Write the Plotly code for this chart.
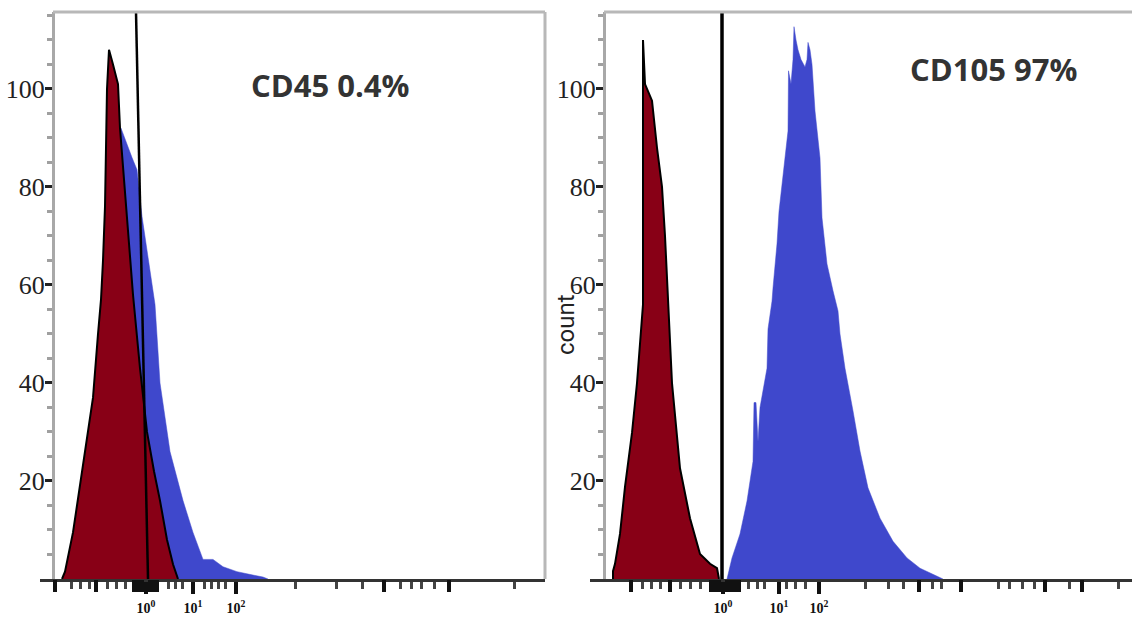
import plotly.graph_objects as go

# ---------------- data (x in arbitrary channel units, y = count) ----------------
# Left panel: CD45
cd45_iso_x = [44, 50, 66, 86, 106, 116, 122, 126, 130, 134, 138, 146, 156, 160, 166, 176, 186, 200, 214, 228, 240, 254, 266, 276]
cd45_iso_y = [0, 1.5, 9.5, 23, 37, 50, 57, 65, 76, 100, 108, 105, 101, 92, 84, 71, 58, 43, 30, 22, 16, 8, 3, 0]

cd45_x = [48, 70, 90, 110, 120, 130, 140, 152, 162, 184, 194, 204, 214, 224, 230, 240, 260, 286, 306, 326, 346, 366, 394, 426, 446, 456]
cd45_y = [0, 6, 18, 32, 45, 62, 80, 89, 92, 86, 83.5, 74, 67, 60, 56, 40, 26, 16, 9.5, 4, 4, 2.5, 1.5, 0.8, 0.4, 0]

cd45_gate_x = [192, 216]
cd45_gate_y = [115.7, 0]

# Right panel: CD105
cd105_iso_x = [46, 46, 50, 60, 70, 84, 94, 106, 106, 106, 110, 124, 134, 144, 150, 156, 164, 180, 200, 220, 240, 254, 258]
cd105_iso_y = [0, 1.6, 3.1, 9.2, 18.8, 29.8, 40, 56, 93, 110, 101, 97.6, 88, 80, 70, 56, 40, 22.6, 12.4, 5.1, 3.1, 2.2, 0]

cd105_x = [274, 284, 300, 314, 326, 328, 332, 336, 340, 354, 356, 364, 366, 374, 378, 386, 396, 397, 402, 406, 408,
           412, 416, 422, 430, 434, 436, 440, 444, 450, 460, 464, 474, 486, 496, 500, 510, 526, 540, 556, 580, 606,
           634, 660, 686, 706]
cd105_y = [0, 4.3, 9.2, 15.9, 24, 36, 36, 28, 35, 43, 51, 56.7, 59.4, 68.4, 75, 81.8, 91.4, 103.7, 101, 106, 112.7,
           110, 108, 106, 104.5, 106, 109.5, 108, 105, 95.5, 85.9, 73.7, 64.3, 58.8, 54.7, 50, 43, 34.3, 26.1, 18.6,
           12.4, 7.7, 4.3, 2.2, 1, 0]

cd105_gate_x = [264, 264]
cd105_gate_y = [116.5, 0]

# axis ticks
y_major = [20, 40, 60, 80, 100]
y_major_text = ["20", "40", "60", "80", "100"]
y_minor = [5, 10, 15, 25, 30, 35, 45, 50, 55, 65, 70, 75, 85, 90, 95, 105, 110, 115]

decade_text = ["10<sup>0</sup>", "10<sup>1</sup>", "10<sup>2</sup>"]
left_labeled = [212, 306, 392]
left_major = [30, 112, 188, 196, 204, 220, 228, 234, 688, 818]
left_minor = [62, 80, 98, 134, 152, 170, 256, 270, 284, 328, 342, 356, 370, 510, 592, 644, 720, 742, 762, 788, 948]

right_labeled = [266, 378, 458]
right_major = [82, 160, 242, 250, 258, 274, 282, 290, 298, 658, 742, 910, 984]
right_minor = [104, 122, 140, 180, 200, 220, 316, 334, 348, 392, 410, 430, 550, 596, 626, 684, 702, 816, 838, 864,
               888, 958, 1056]

labels = ["CD45 0.4%", "CD105 97%"]

# ---------------- figure ----------------
RED = "#880016"
BLUE = "#3f48cc"
W, H = 1132, 619

fig = go.Figure()

fig.add_trace(go.Scatter(x=cd45_x, y=cd45_y, mode="lines", fill="tozeroy",
                         line=dict(color=BLUE, width=0.5), fillcolor=BLUE, xaxis="x", yaxis="y"))
fig.add_trace(go.Scatter(x=cd45_iso_x, y=cd45_iso_y, mode="lines", fill="tozeroy",
                         line=dict(color="black", width=2), fillcolor=RED, xaxis="x", yaxis="y"))
fig.add_trace(go.Scatter(x=cd45_gate_x, y=cd45_gate_y, mode="lines",
                         line=dict(color="black", width=2.5), xaxis="x", yaxis="y"))

fig.add_trace(go.Scatter(x=cd105_x, y=cd105_y, mode="lines", fill="tozeroy",
                         line=dict(color=BLUE, width=0.5), fillcolor=BLUE, xaxis="x2", yaxis="y2"))
fig.add_trace(go.Scatter(x=cd105_iso_x, y=cd105_iso_y, mode="lines", fill="tozeroy",
                         line=dict(color="black", width=2), fillcolor=RED, xaxis="x2", yaxis="y2"))
fig.add_trace(go.Scatter(x=cd105_gate_x, y=cd105_gate_y, mode="lines",
                         line=dict(color="black", width=3.5), xaxis="x2", yaxis="y2"))

xl0, xl1 = 40 / W, 545 / W
xr0, xr1 = 590 / W, 1.0
yl_pos, yr_pos = 53 / W, 604 / W

def xaxis_cfg(dom, rng, labeled, minor, anchor):
    return dict(domain=dom, range=rng, anchor=anchor, showgrid=False, zeroline=False,
                showline=True, linecolor="#333333", linewidth=3,
                tickmode="array", tickvals=labeled, ticktext=decade_text,
                ticks="outside", ticklen=12, tickwidth=4, tickcolor="#111111",
                ticklabelstandoff=2,
                tickfont=dict(family="Liberation Serif", size=14, color="#111111", weight="bold"),
                minor=dict(tickmode="array", tickvals=minor, ticks="outside", ticklen=7,
                           tickwidth=3, tickcolor="#444444"),
                fixedrange=True)

def xaxis_major_cfg(dom, rng, major, over, anchor):
    return dict(domain=dom, range=rng, overlaying=over, anchor=anchor, side="bottom",
                showgrid=False, zeroline=False, showline=False, showticklabels=False,
                tickmode="array", tickvals=major,
                ticks="outside", ticklen=12, tickwidth=4, tickcolor="#111111",
                fixedrange=True)

def yaxis_cfg(pos):
    return dict(range=[0, 115.7], domain=[0, 1], anchor="free", position=pos,
                showgrid=False, zeroline=False, showline=True, linecolor="#a8a8a8", linewidth=3,
                tickmode="array", tickvals=y_major, ticktext=y_major_text,
                ticks="outside", ticklen=7, tickwidth=3, tickcolor="#222222",
                ticklabelstandoff=-5,
                tickfont=dict(family="Liberation Serif", size=26, color="#222222"),
                minor=dict(tickmode="array", tickvals=y_minor, ticks="outside", ticklen=5,
                           tickwidth=3, tickcolor="#a0a0a0"),
                fixedrange=True)

fig.update_layout(
    width=W, height=H,
    margin=dict(l=0, r=0, t=12, b=40),
    paper_bgcolor="white", plot_bgcolor="white",
    showlegend=False,
    xaxis=xaxis_cfg([xl0, xl1], [0, 1010], left_labeled, left_minor, "y"),
    xaxis2=xaxis_cfg([xr0, xr1], [0, 1084], right_labeled, right_minor, "y2"),
    xaxis3=xaxis_major_cfg([xl0, xl1], [0, 1010], left_major, "x", "y"),
    xaxis4=xaxis_major_cfg([xr0, xr1], [0, 1084], right_major, "x2", "y2"),
    yaxis=yaxis_cfg(yl_pos),
    yaxis2=yaxis_cfg(yr_pos),
)

# invisible traces so the overlay tick axes are drawn
fig.add_trace(go.Scatter(x=[0], y=[0], mode="markers", marker=dict(opacity=0), hoverinfo="skip",
                         xaxis="x3", yaxis="y"))
fig.add_trace(go.Scatter(x=[0], y=[0], mode="markers", marker=dict(opacity=0), hoverinfo="skip",
                         xaxis="x4", yaxis="y2"))

# frames (top/right borders)
frame_col = "#b8b8b8"
fig.add_shape(type="line", xref="paper", yref="paper", x0=yl_pos, x1=xl1, y0=1, y1=1,
              line=dict(color=frame_col, width=3))
fig.add_shape(type="line", xref="paper", yref="paper", x0=xl1, x1=xl1, y0=0, y1=1,
              line=dict(color=frame_col, width=3))
fig.add_shape(type="line", xref="paper", yref="paper", x0=yr_pos, x1=1, y0=1, y1=1,
              line=dict(color=frame_col, width=3))

fig.add_annotation(x=580, y=100.8, xref="x", yref="y", text=labels[0], showarrow=False,
                   font=dict(family="Open Sans", size=31, color="#333333", weight="bold"))
fig.add_annotation(x=806, y=104, xref="x2", yref="y2", text=labels[1], showarrow=False,
                   font=dict(family="Open Sans", size=31, color="#333333", weight="bold"))
fig.add_annotation(x=566 / W, y=(579 - 325) / 567, xref="paper", yref="paper", text="count",
                   textangle=-90, showarrow=False,
                   font=dict(family="Liberation Sans Narrow, Roboto", size=24, color="#222222"))

fig.write_html("out.html")
